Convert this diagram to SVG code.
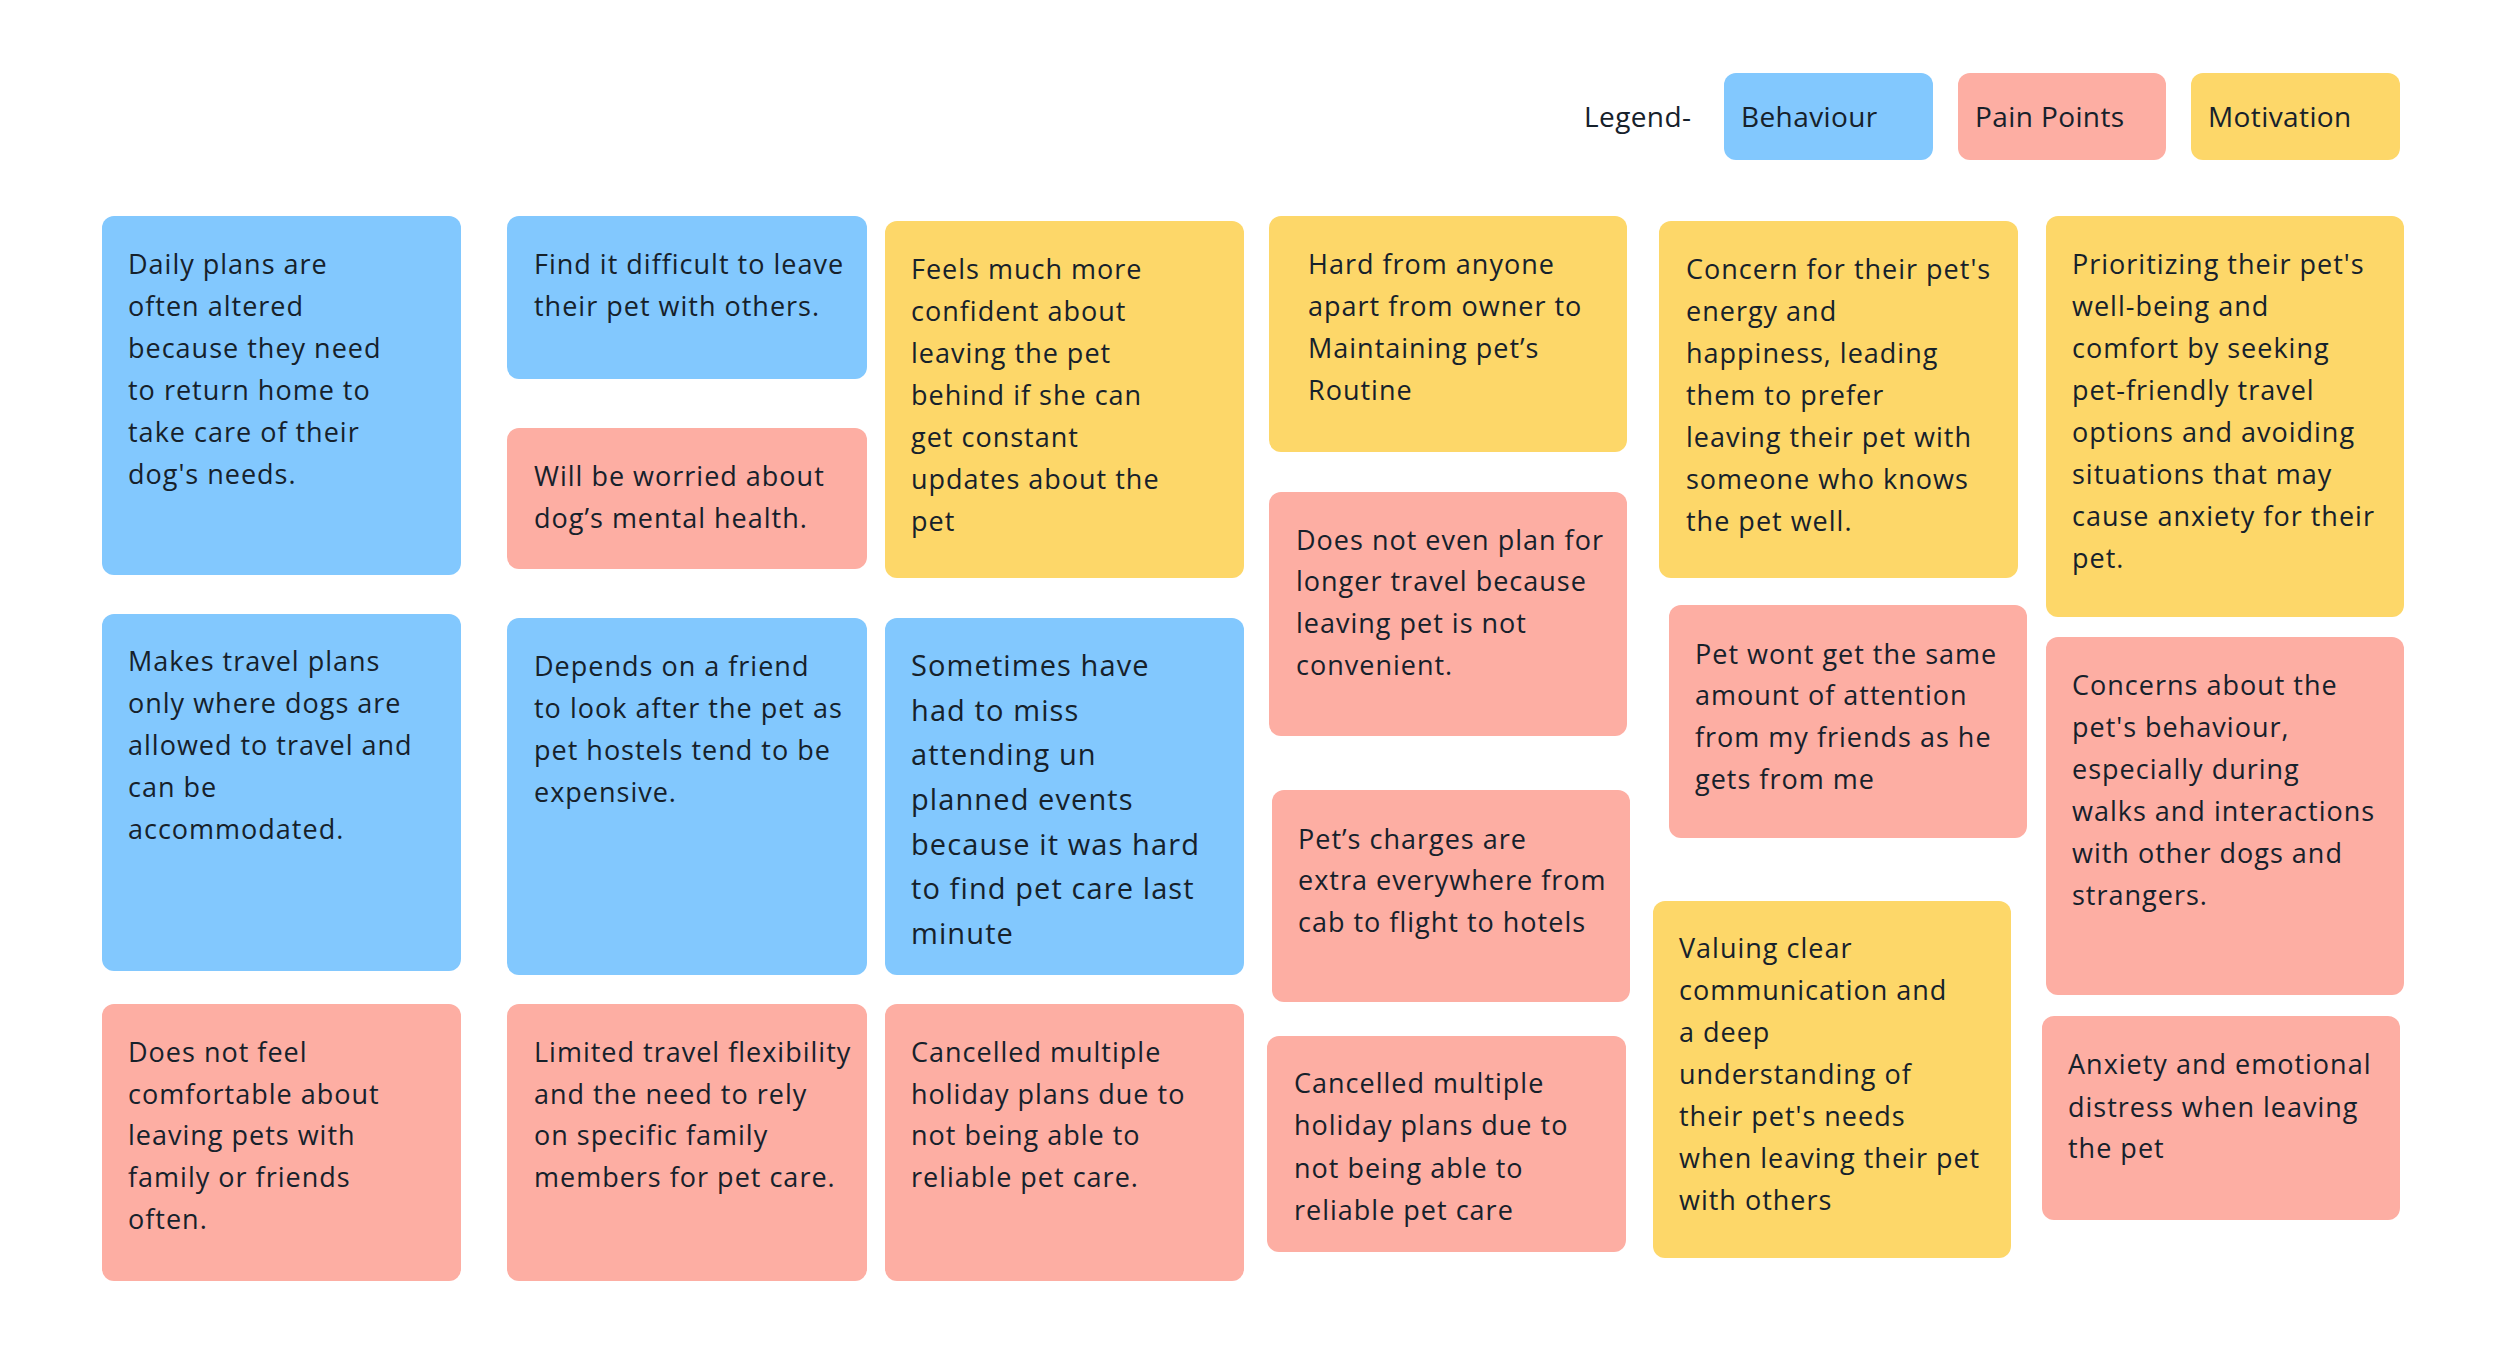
<svg xmlns="http://www.w3.org/2000/svg" width="2500" height="1353" viewBox="0 0 2500 1353">
<style>
.bg{fill:#ffffff}
.b{fill:#82C8FE}
.p{fill:#FDAEA3}
.y{fill:#FDD769}
text{font-family:"Open Sans","Liberation Sans",sans-serif;fill:#16212b}
.t{font-size:27px;letter-spacing:1px}
.tl{font-size:29px;letter-spacing:1.1px}
.lg{font-size:28px;letter-spacing:0.4px}
</style>
<rect class="bg" x="0" y="0" width="2500" height="1353"/>
<g id="legend">
<text class="lg" x="1584" y="127">Legend-</text>
<g id="legend-behaviour"><rect class="b" x="1724" y="73" width="209" height="87" rx="12"/><text class="lg" x="1741" y="127">Behaviour</text></g>
<g id="legend-pain"><rect class="p" x="1958" y="73" width="208" height="87" rx="12"/><text class="lg" x="1975" y="127">Pain Points</text></g>
<g id="legend-motivation"><rect class="y" x="2191" y="73" width="209" height="87" rx="12"/><text class="lg" x="2208" y="127">Motivation</text></g>
</g>
<g id="connectors"></g>
<g id="A1"><rect class="b" x="102" y="216" width="359" height="359" rx="12"/>
<text class="t"><tspan x="128" y="274">Daily plans are</tspan><tspan x="128" y="316">often altered</tspan><tspan x="128" y="358">because they need</tspan><tspan x="128" y="400">to return home to</tspan><tspan x="128" y="442">take care of their</tspan><tspan x="128" y="484">dog's needs.</tspan></text></g>
<g id="B1"><rect class="b" x="507" y="216" width="360" height="163" rx="12"/>
<text class="t"><tspan x="534" y="274">Find it difficult to leave</tspan><tspan x="534" y="316">their pet with others.</tspan></text></g>
<g id="B2"><rect class="p" x="507" y="428" width="360" height="141" rx="12"/>
<text class="t"><tspan x="534" y="486">Will be worried about</tspan><tspan x="534" y="528">dog’s mental health.</tspan></text></g>
<g id="C1"><rect class="y" x="885" y="221" width="359" height="357" rx="12"/>
<text class="t"><tspan x="911" y="279">Feels much more</tspan><tspan x="911" y="321">confident about</tspan><tspan x="911" y="363">leaving the pet</tspan><tspan x="911" y="405">behind if she can</tspan><tspan x="911" y="447">get constant</tspan><tspan x="911" y="489">updates about the</tspan><tspan x="911" y="531">pet</tspan></text></g>
<g id="A2"><rect class="b" x="102" y="614" width="359" height="357" rx="12"/>
<text class="t"><tspan x="128" y="671">Makes travel plans</tspan><tspan x="128" y="713">only where dogs are</tspan><tspan x="128" y="755">allowed to travel and</tspan><tspan x="128" y="797">can be</tspan><tspan x="128" y="839">accommodated.</tspan></text></g>
<g id="B3"><rect class="b" x="507" y="618" width="360" height="357" rx="12"/>
<text class="t"><tspan x="534" y="676">Depends on a friend</tspan><tspan x="534" y="718">to look after the pet as</tspan><tspan x="534" y="760">pet hostels tend to be</tspan><tspan x="534" y="802">expensive.</tspan></text></g>
<g id="C2"><rect class="b" x="885" y="618" width="359" height="357" rx="12"/>
<text class="tl"><tspan x="911" y="676">Sometimes have</tspan><tspan x="911" y="721">had to miss</tspan><tspan x="911" y="765">attending un</tspan><tspan x="911" y="810">planned events</tspan><tspan x="911" y="855">because it was hard</tspan><tspan x="911" y="899">to find pet care last</tspan><tspan x="911" y="944">minute</tspan></text></g>
<g id="A3"><rect class="p" x="102" y="1004" width="359" height="277" rx="12"/>
<text class="t"><tspan x="128" y="1062">Does not feel</tspan><tspan x="128" y="1104">comfortable about</tspan><tspan x="128" y="1145">leaving pets with</tspan><tspan x="128" y="1187">family or friends</tspan><tspan x="128" y="1229">often.</tspan></text></g>
<g id="B4"><rect class="p" x="507" y="1004" width="360" height="277" rx="12"/>
<text class="t"><tspan x="534" y="1062">Limited travel flexibility</tspan><tspan x="534" y="1104">and the need to rely</tspan><tspan x="534" y="1145">on specific family</tspan><tspan x="534" y="1187">members for pet care.</tspan></text></g>
<g id="C3"><rect class="p" x="885" y="1004" width="359" height="277" rx="12"/>
<text class="t"><tspan x="911" y="1062">Cancelled multiple</tspan><tspan x="911" y="1104">holiday plans due to</tspan><tspan x="911" y="1145">not being able to</tspan><tspan x="911" y="1187">reliable pet care.</tspan></text></g>
<g id="D1"><rect class="y" x="1269" y="216" width="358" height="236" rx="12"/>
<text class="t"><tspan x="1308" y="274">Hard from anyone</tspan><tspan x="1308" y="316">apart from owner to</tspan><tspan x="1308" y="358">Maintaining pet’s</tspan><tspan x="1308" y="400">Routine</tspan></text></g>
<g id="D2"><rect class="p" x="1269" y="492" width="358" height="244" rx="12"/>
<text class="t"><tspan x="1296" y="550">Does not even plan for</tspan><tspan x="1296" y="591">longer travel because</tspan><tspan x="1296" y="633">leaving pet is not</tspan><tspan x="1296" y="675">convenient.</tspan></text></g>
<g id="D3"><rect class="p" x="1272" y="790" width="358" height="212" rx="12"/>
<text class="t"><tspan x="1298" y="849">Pet’s charges are</tspan><tspan x="1298" y="890">extra everywhere from</tspan><tspan x="1298" y="932">cab to flight to hotels</tspan></text></g>
<g id="D4"><rect class="p" x="1267" y="1036" width="359" height="216" rx="12"/>
<text class="t"><tspan x="1294" y="1093">Cancelled multiple</tspan><tspan x="1294" y="1135">holiday plans due to</tspan><tspan x="1294" y="1178">not being able to</tspan><tspan x="1294" y="1220">reliable pet care</tspan></text></g>
<g id="E1"><rect class="y" x="1659" y="221" width="359" height="357" rx="12"/>
<text class="t"><tspan x="1686" y="279">Concern for their pet's</tspan><tspan x="1686" y="321">energy and</tspan><tspan x="1686" y="363">happiness, leading</tspan><tspan x="1686" y="405">them to prefer</tspan><tspan x="1686" y="447">leaving their pet with</tspan><tspan x="1686" y="489">someone who knows</tspan><tspan x="1686" y="531">the pet well.</tspan></text></g>
<g id="E2"><rect class="p" x="1669" y="605" width="358" height="233" rx="12"/>
<text class="t"><tspan x="1695" y="664">Pet wont get the same</tspan><tspan x="1695" y="705">amount of attention</tspan><tspan x="1695" y="747">from my friends as he</tspan><tspan x="1695" y="789">gets from me</tspan></text></g>
<g id="E3"><rect class="y" x="1653" y="901" width="358" height="357" rx="12"/>
<text class="t"><tspan x="1679" y="958">Valuing clear</tspan><tspan x="1679" y="1000">communication and</tspan><tspan x="1679" y="1042">a deep</tspan><tspan x="1679" y="1084">understanding of</tspan><tspan x="1679" y="1126">their pet's needs</tspan><tspan x="1679" y="1168">when leaving their pet</tspan><tspan x="1679" y="1210">with others</tspan></text></g>
<g id="F1"><rect class="y" x="2046" y="216" width="358" height="401" rx="12"/>
<text class="t"><tspan x="2072" y="274">Prioritizing their pet's</tspan><tspan x="2072" y="316">well-being and</tspan><tspan x="2072" y="358">comfort by seeking</tspan><tspan x="2072" y="400">pet-friendly travel</tspan><tspan x="2072" y="442">options and avoiding</tspan><tspan x="2072" y="484">situations that may</tspan><tspan x="2072" y="526">cause anxiety for their</tspan><tspan x="2072" y="568">pet.</tspan></text></g>
<g id="F2"><rect class="p" x="2046" y="637" width="358" height="358" rx="12"/>
<text class="t"><tspan x="2072" y="695">Concerns about the</tspan><tspan x="2072" y="737">pet's behaviour,</tspan><tspan x="2072" y="779">especially during</tspan><tspan x="2072" y="821">walks and interactions</tspan><tspan x="2072" y="863">with other dogs and</tspan><tspan x="2072" y="905">strangers.</tspan></text></g>
<g id="F3"><rect class="p" x="2042" y="1016" width="358" height="204" rx="12"/>
<text class="t"><tspan x="2068" y="1074">Anxiety and emotional</tspan><tspan x="2068" y="1117">distress when leaving</tspan><tspan x="2068" y="1158">the pet</tspan></text></g>
</svg>
